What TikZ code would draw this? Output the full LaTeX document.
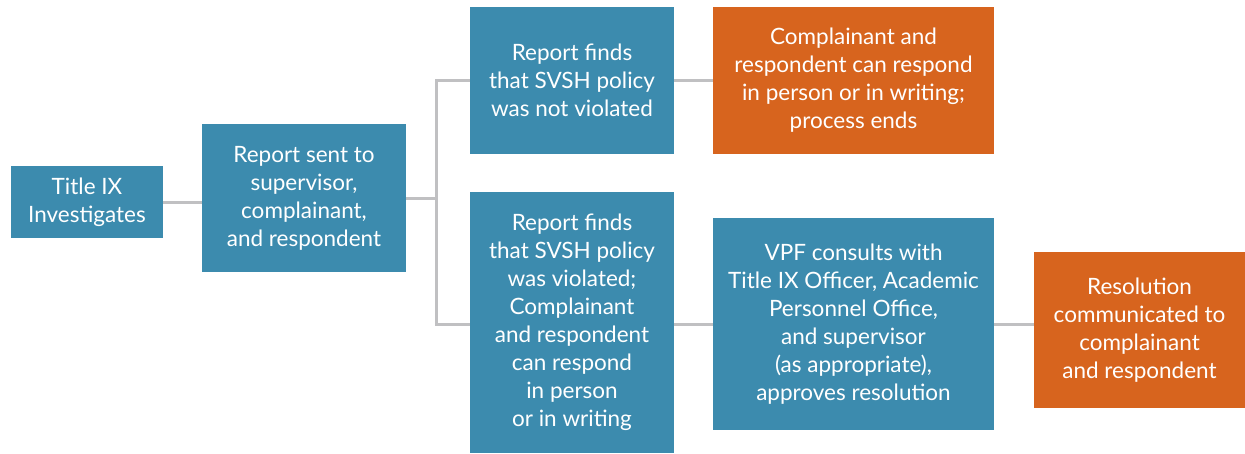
\documentclass[tikz,border=0pt]{standalone}
\usepackage{fontspec}
\setmainfont{Lato}
\definecolor{boxblue}{HTML}{3C8BAE}
\definecolor{boxorange}{HTML}{D7641E}
\definecolor{linegray}{HTML}{C0C0C2}
\begin{document}
\begin{tikzpicture}[x=1pt,y=-1pt,
  box/.style={fill=boxblue, text=white, align=center, inner sep=0pt,
    font=\fontsize{22.5}{28}\selectfont},
  obox/.style={box, fill=boxorange},
  conn/.style={draw=linegray, line width=3pt}]
\useasboundingbox (0,0) rectangle (1245,453);
\node[box, minimum width=152pt, minimum height=72pt] (title) at (87,202) {Title IX\\Investigates};
\node[box, minimum width=204pt, minimum height=148pt] (sent) at (304,198) {Report sent to\\supervisor,\\complainant,\\and respondent};
\node[box, minimum width=204pt, minimum height=147pt] (nv) at (572,80.5) {Report finds\\that SVSH policy\\was not violated};
\node[obox, minimum width=281pt, minimum height=147pt] (ends) at (853.5,80.5) {Complainant and\\respondent can respond\\in person or in writing;\\process ends};
\node[box, minimum width=204pt, minimum height=261pt] (v) at (572,322.5) {Report finds\\that SVSH policy\\was violated;\\Complainant\\and respondent\\can respond\\in person\\or in writing};
\node[box, minimum width=281pt, minimum height=212pt] (vpf) at (853.5,324) {VPF consults with\\Title IX Officer, Academic\\Personnel Office,\\and supervisor\\(as appropriate),\\approves resolution};
\node[obox, minimum width=211pt, minimum height=156pt] (res) at (1139.5,330) {Resolution\\communicated to\\complainant\\and respondent};
\coordinate (j) at (436,198);
\draw[conn] (title.east) -- (title.east -| sent.west);
\draw[conn] (sent.east) -- (j);
\draw[conn] (j) |- (nv.west);
\draw[conn] (j) |- (vpf.west -| v.west);
\draw[conn] (nv.east) -- (ends.west);
\draw[conn] (vpf.west -| v.east) -- (vpf.west);
\draw[conn] (vpf.east) -- (vpf.east -| res.west);
\end{tikzpicture}
\end{document}
